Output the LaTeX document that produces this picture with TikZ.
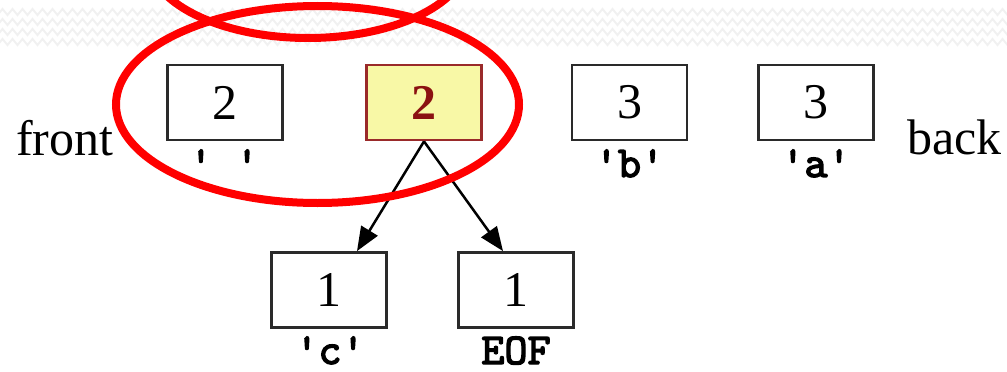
\documentclass[tikz,border=0pt]{standalone}
\usepackage{fontspec}
\setmainfont{Liberation Serif}
\newfontfamily\codefont{lmmono10-regular.otf}[FakeBold=3]
\usetikzlibrary{arrows.meta,decorations.pathmorphing}
\newcommand\sqt{\char"27\relax}
\definecolor{boxline}{HTML}{2A2A2A}
\definecolor{hlfill}{HTML}{F8F8A6}
\definecolor{hlline}{HTML}{9A2A2A}
\definecolor{hltext}{HTML}{8B1111}
\definecolor{ringred}{HTML}{FF0000}
\definecolor{texture}{HTML}{F1F1F1}
\tikzset{
  cell/.style={draw=boxline, line width=2.8pt, minimum width=115pt, minimum height=75pt, inner sep=0pt, font=\fontsize{50}{60}\selectfont},
  hlcell/.style={cell, draw=hlline, fill=hlfill, text=hltext, font=\fontsize{50}{60}\selectfont\bfseries},
  charlabel/.style={anchor=base, inner sep=0pt, font=\fontsize{44}{50}\selectfont\codefont},
  sidelabel/.style={anchor=base west, inner sep=0pt, font=\fontsize{50}{60}\selectfont},
  link/.style={line width=2.5pt, -{Triangle[length=24pt,width=19pt]}},
  ring/.style={draw=ringred, line width=8pt},
  zig/.style={draw=texture, line width=2pt, decorate, decoration={zigzag, segment length=10pt, amplitude=3pt}}
}
\begin{document}
\begin{tikzpicture}[x=1pt,y=-1pt]
\useasboundingbox (0,0) rectangle (1007,372);
\clip (0,0) rectangle (1007,372);
% background texture
\foreach \yy in {12,22,32,42}{
  \coordinate (zl\yy) at (-10,\yy);
  \coordinate (zr\yy) at (1017,\yy);
  \draw[zig] (zl\yy) -- (zr\yy);
}
% cells
\node[cell]   (b1) at (225,102.5) {2};
\node[hlcell] (b2) at (424,102.5) {2};
\node[cell]   (b3) at (629.5,102.5) {3};
\node[cell]   (b4) at (816,102.5) {3};
\node[cell]   (b5) at (329,290) {1};
\node[cell]   (b6) at (516,290) {1};
% character labels
\node[charlabel] (l1) at (224,177) {\sqt\ \sqt};
\node[charlabel] (l3) at (629.5,177) {\sqt b\sqt};
\node[charlabel] (l4) at (816,177) {\sqt a\sqt};
\node[charlabel] (l5) at (330,364) {\sqt c\sqt};
\node[charlabel] (l6) at (516,364) {EOF};
% side labels
\node[sidelabel] (front) at (16,155) {front};
\node[sidelabel] (back) at (907,154) {back};
% links
\draw[link] (b2.south) -- ([xshift=28pt]b5.north);
\draw[link] (b2.south) -- ([xshift=-13pt]b6.north);
% red rings
\coordinate (c1) at (317.5,104.5);
\coordinate (c2) at (308,-42);
\draw[ring] (c1) ellipse [x radius=201.5, y radius=98.5];
\draw[ring] (c2) ellipse [x radius=160, y radius=80];
\end{tikzpicture}
\end{document}
